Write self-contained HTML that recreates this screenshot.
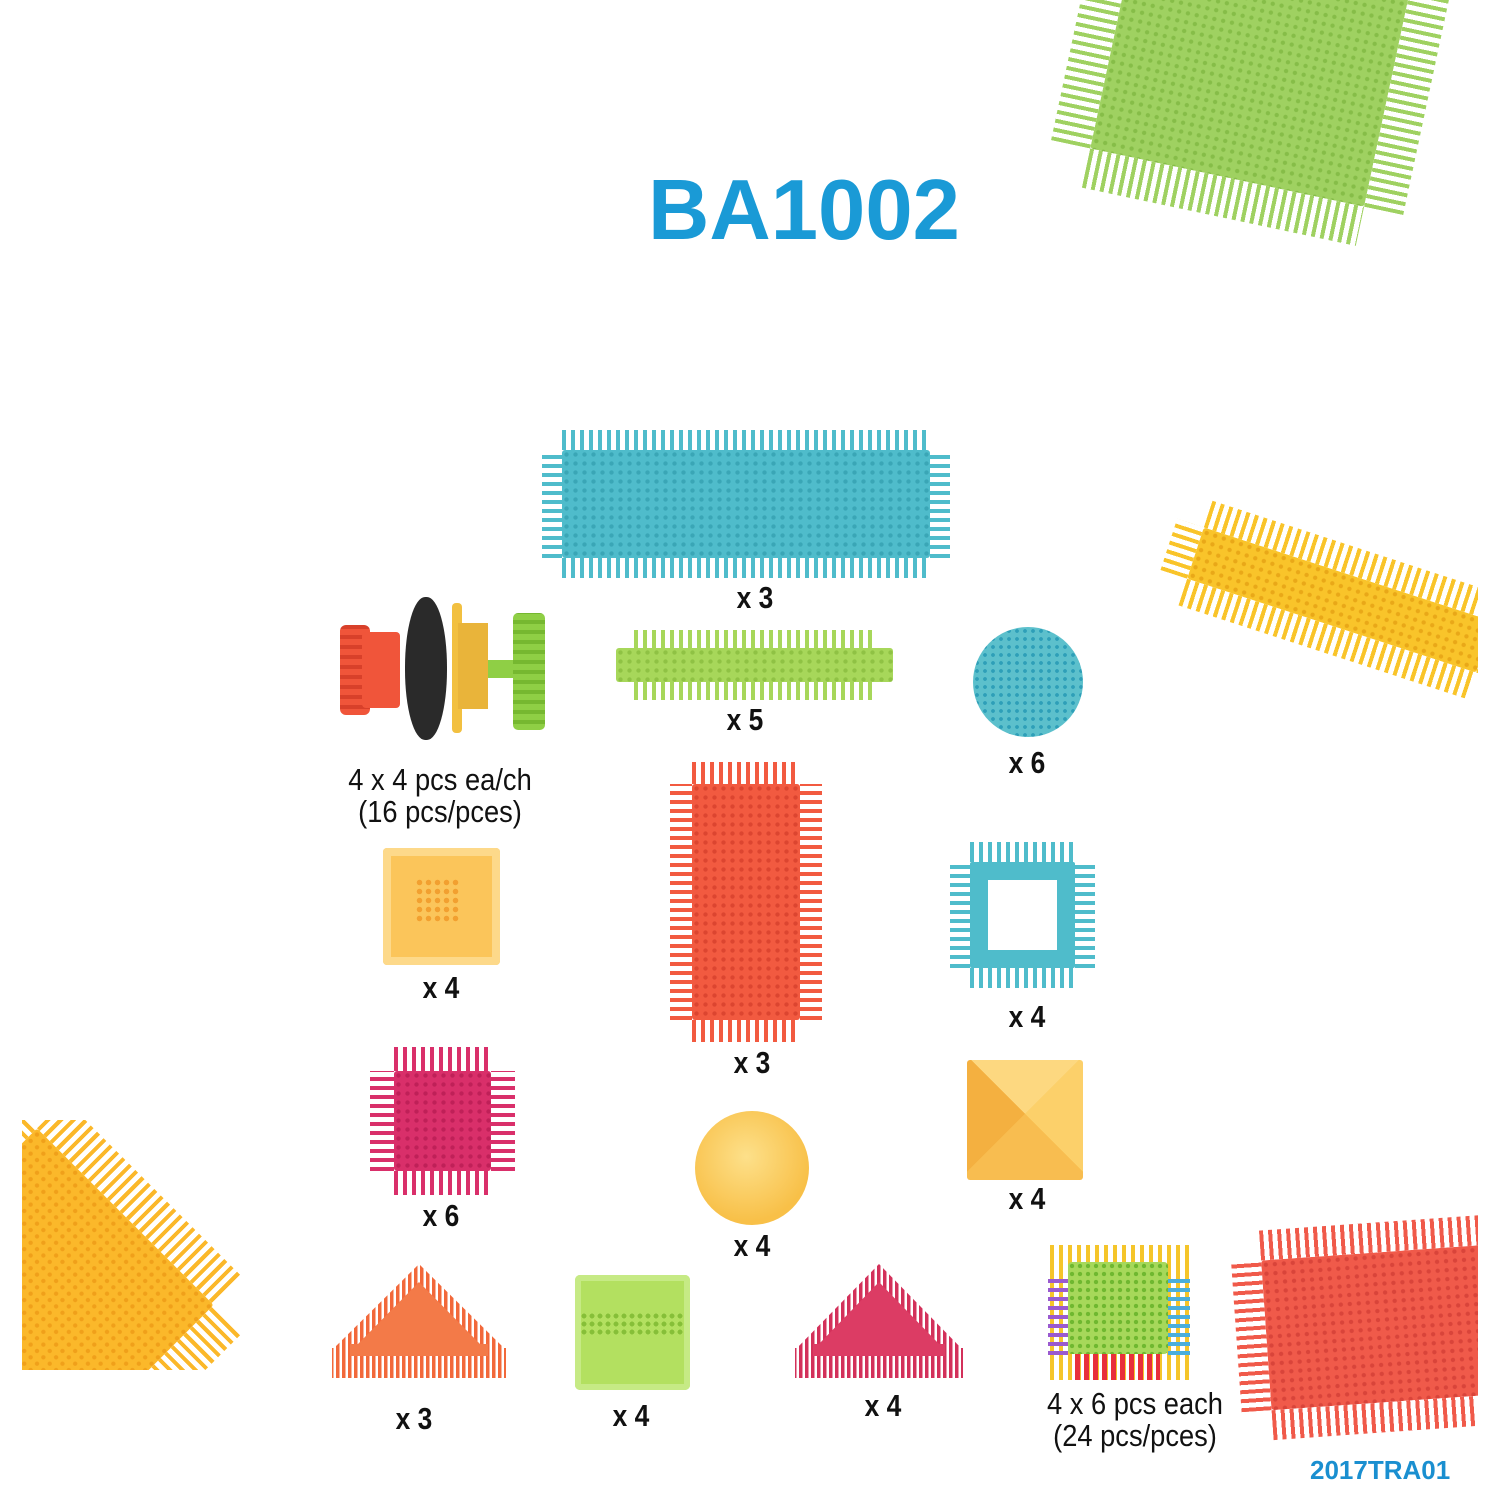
<!DOCTYPE html>
<html><head><meta charset="utf-8"><style>
body{margin:0;width:1500px;height:1500px;background:#fff;position:relative;overflow:hidden;font-family:"Liberation Sans",sans-serif}
.a{position:absolute}
.p{position:absolute}
.p>.t,.p>.b{position:absolute;left:var(--s);right:var(--s);height:var(--s);background:repeating-linear-gradient(90deg,var(--c) 0 4px,transparent 4px 9px)}
.p>.t{top:0}.p>.b{bottom:0}
.p>.l,.p>.r{position:absolute;top:var(--s);bottom:var(--s);width:var(--s);background:repeating-linear-gradient(0deg,var(--c) 0 4px,transparent 4px 9px)}
.p>.l{left:0}.p>.r{right:0}
.p>.k{position:absolute;inset:var(--s);background:radial-gradient(circle,var(--d) 30%,transparent 38%) 0 0/9px 9px,var(--c);border-radius:3px}
.lb{position:absolute;font-weight:bold;font-size:31px;color:#111;transform:translateX(-50%) scaleX(.85);white-space:nowrap}
.tx{position:absolute;font-size:31px;color:#111;transform:translateX(-50%) scaleX(.88);white-space:nowrap;line-height:32px;text-align:center}
</style></head><body>

<div class="a" style="left:648px;top:162px;font-size:85px;font-weight:bold;color:#1a9ad6">BA1002</div>

<!-- top right green -->
<div class="p" style="--s:40px;--c:#9fd161;--d:#86bd48;left:1070px;top:-80px;width:360px;height:300px;transform:rotate(12deg)"><i class="t"></i><i class="b"></i><i class="l"></i><i class="r"></i><i class="k"></i></div>
<!-- right yellow bar -->
<div class="p" style="--s:28px;--c:#f9c42a;--d:#e9a818;left:1160px;top:545px;width:360px;height:110px;transform:rotate(18deg)"><i class="t"></i><i class="b"></i><i class="l"></i><i class="r"></i><i class="k"></i></div>
<!-- bottom right red -->
<div class="p" style="--s:30px;--c:#f05a4a;--d:#d9443a;left:1236px;top:1222px;width:300px;height:210px;transform:rotate(-4deg)"><i class="t"></i><i class="b"></i><i class="l"></i><i class="r"></i><i class="k"></i></div>
<!-- left yellow triangle -->
<div class="a" style="left:22px;top:1120px;width:240px;height:250px;overflow:hidden">
<div class="p" style="--s:40px;--c:#fbb82a;--d:#f0a01a;left:-150px;top:20px;width:330px;height:330px;transform:rotate(45deg)"><i class="t"></i><i class="b"></i><i class="l"></i><i class="r"></i><i class="k"></i></div></div>
<div class="a" style="right:0;top:0;width:22px;height:1500px;background:#fff"></div>
<div class="a" style="left:1310px;top:1455px;font-size:26px;font-weight:bold;color:#1a8fd0">2017TRA01</div>

<!-- blue bar -->
<div class="p" style="--s:20px;--c:#4fbccb;--d:#3aa6b6;left:542px;top:430px;width:408px;height:148px"><i class="t"></i><i class="b"></i><i class="l"></i><i class="r"></i><i class="k"></i></div>
<div class="lb" style="left:755px;top:580px">x 3</div>

<!-- wheel set -->
<div class="a" style="left:340px;top:625px;width:30px;height:90px;background:repeating-linear-gradient(0deg,#f0553a 0 6px,#d8402a 6px 10px);border-radius:6px"></div>
<div class="a" style="left:362px;top:632px;width:38px;height:76px;background:#f0553a;border-radius:4px"></div>
<div class="a" style="left:405px;top:597px;width:42px;height:143px;background:#2a2a2a;border-radius:20px/70px"></div>
<div class="a" style="left:452px;top:603px;width:10px;height:130px;background:#f2c040;border-radius:4px"></div>
<div class="a" style="left:458px;top:623px;width:30px;height:86px;background:#e9b43a"></div>
<div class="a" style="left:488px;top:660px;width:35px;height:18px;background:#8fcf45"></div>
<div class="a" style="left:513px;top:613px;width:32px;height:117px;background:repeating-linear-gradient(0deg,#8fcf45 0 6px,#76b830 6px 10px);border-radius:5px"></div>
<div class="tx" style="left:440px;top:764px">4 x 4 pcs ea/ch<br>(16 pcs/pces)</div>

<!-- green bar -->
<div class="p" style="--s:18px;--c:#a7d75a;--d:#8fc244;left:616px;top:630px;width:277px;height:70px"><i class="t"></i><i class="b"></i><i class="l" style="width:0"></i><i class="r" style="width:0"></i><i class="k" style="inset:18px 0"></i></div>
<div class="lb" style="left:745px;top:702px">x 5</div>

<!-- blue disc -->
<div class="a" style="left:973px;top:627px;width:110px;height:110px;border-radius:50%;background:radial-gradient(circle,#2e9fb8 30%,transparent 38%) 0 0/8px 8px,#5cc0cc"></div>
<div class="lb" style="left:1027px;top:745px">x 6</div>

<!-- yellow square -->
<div class="a" style="left:383px;top:848px;width:117px;height:117px;background:#fbc55a;border-radius:4px;box-shadow:inset 0 0 0 8px #fdd98a"></div>
<div class="a" style="left:415px;top:878px;width:45px;height:45px;background:radial-gradient(circle,#f2a030 40%,transparent 46%) 0 0/9px 9px"></div>
<div class="lb" style="left:441px;top:970px">x 4</div>

<!-- red tall -->
<div class="p" style="--s:22px;--c:#f25a40;--d:#dc4530;left:670px;top:762px;width:152px;height:280px"><i class="t"></i><i class="b"></i><i class="l"></i><i class="r"></i><i class="k"></i></div>
<div class="lb" style="left:752px;top:1045px">x 3</div>

<!-- blue frame -->
<div class="p" style="--s:20px;--c:#4fbccb;--d:#4fbccb;left:950px;top:842px;width:145px;height:146px"><i class="t"></i><i class="b"></i><i class="l"></i><i class="r"></i><i class="k" style="background:transparent;border:18px solid #4fbccb;border-radius:2px"></i></div>
<div class="lb" style="left:1027px;top:999px">x 4</div>

<!-- pink -->
<div class="p" style="--s:24px;--c:#d92f6a;--d:#bf2058;left:370px;top:1047px;width:145px;height:148px"><i class="t"></i><i class="b"></i><i class="l"></i><i class="r"></i><i class="k"></i></div>
<div class="lb" style="left:441px;top:1198px">x 6</div>

<!-- ball -->
<div class="a" style="left:695px;top:1111px;width:114px;height:114px;border-radius:50%;background:radial-gradient(circle at 45% 40%,#fde08a,#f8c048 70%)"></div>
<div class="lb" style="left:752px;top:1228px">x 4</div>

<!-- pyramid -->
<div class="a" style="left:967px;top:1060px;width:116px;height:120px;background:conic-gradient(from 45deg at 50% 45%,#fcd06a 0 25%,#f8bd50 0 50%,#f4b040 0 75%,#fdd880 0);border-radius:3px"></div>
<div class="lb" style="left:1027px;top:1181px">x 4</div>

<!-- orange triangle -->
<svg class="a" style="left:330px;top:1262px" width="178" height="120"><defs><pattern id="v" width="6" height="10" patternUnits="userSpaceOnUse"><rect width="3.5" height="10" fill="#f2683a"/></pattern></defs>
<polygon points="89,2 176,88 2,88" fill="url(#v)"/><polygon points="89,20 150,82 28,82" fill="#f37a48"/><rect x="2" y="86" width="174" height="30" fill="url(#v)"/><rect x="20" y="82" width="138" height="12" fill="#f37a48"/></svg>
<div class="lb" style="left:414px;top:1401px">x 3</div>

<!-- green square -->
<div class="a" style="left:575px;top:1275px;width:115px;height:115px;background:#b3e060;border-radius:5px;box-shadow:inset 0 0 0 6px #c6ea85"></div>
<div class="a" style="left:580px;top:1312px;width:105px;height:24px;background:radial-gradient(circle,#86bf38 40%,transparent 46%) 0 0/8px 8px"></div>
<div class="lb" style="left:631px;top:1398px">x 4</div>

<!-- pink triangle -->
<svg class="a" style="left:793px;top:1262px" width="172" height="120"><defs><pattern id="w" width="6" height="10" patternUnits="userSpaceOnUse"><rect width="3.5" height="10" fill="#d3305a"/></pattern></defs>
<polygon points="86,2 170,88 2,88" fill="url(#w)"/><polygon points="86,20 146,82 26,82" fill="#dc3c64"/><rect x="2" y="86" width="168" height="30" fill="url(#w)"/><rect x="20" y="82" width="132" height="12" fill="#dc3c64"/></svg>
<div class="lb" style="left:883px;top:1388px">x 4</div>

<!-- cube -->
<div class="a" style="left:1050px;top:1245px;width:140px;height:135px;background:repeating-linear-gradient(90deg,#f5c52a 0 4px,transparent 4px 9px)"></div>
<div class="a" style="left:1048px;top:1275px;width:20px;height:80px;background:repeating-linear-gradient(0deg,#9a5ad0 0 4px,transparent 4px 9px)"></div>
<div class="a" style="left:1168px;top:1275px;width:22px;height:80px;background:repeating-linear-gradient(0deg,#4aaedc 0 4px,transparent 4px 9px)"></div>
<div class="a" style="left:1075px;top:1350px;width:85px;height:30px;background:repeating-linear-gradient(90deg,#e8303a 0 5px,transparent 5px 9px)"></div>
<div class="a" style="left:1068px;top:1262px;width:100px;height:92px;background:radial-gradient(circle,#6fb830 35%,transparent 42%) 0 0/8px 8px,#a6d85a;border-radius:4px"></div>
<div class="tx" style="left:1135px;top:1388px">4 x 6 pcs each<br>(24 pcs/pces)</div>

</body></html>
